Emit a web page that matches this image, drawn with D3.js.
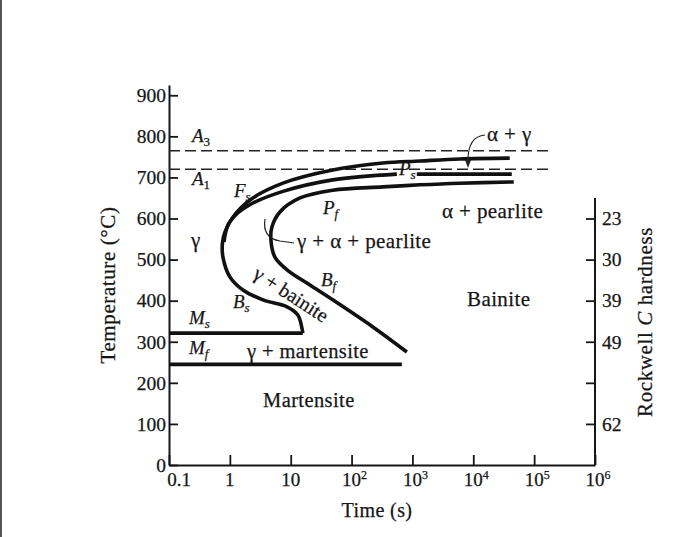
<!DOCTYPE html>
<html>
<head>
<meta charset="utf-8">
<script src="https://cdn.jsdelivr.net/npm/d3@7"></script>
<style>
  body { margin: 0; background: #fff; }
  #chart { width: 700px; height: 537px; }
  text { font-family: "Liberation Serif", "DejaVu Serif", serif; fill: #161616; }
</style>
</head>
<body>
<div id="chart"></div>
<script>

// ---- data (time in s, temperature in °C) ----
const tempTicks = [0, 100, 200, 300, 400, 500, 600, 700, 800, 900];
const timeTicks = [0.1, 1, 10, 1e2, 1e3, 1e4, 1e5, 1e6];
const timeBase = ["0.1", "1", "10", "10", "10", "10", "10", "10"];
const timeExp = ["", "", "", "2", "3", "4", "5", "6"];
const hardnessTemps = [600, 500, 400, 300, 200, 100];
const hardnessLabels = ["23", "30", "39", "49", "", "62"];
const hardnessTop = 650;

const a3Temp = 765;
const a1Temp = 720;
const dashedEnd = 1.9e5;

// outer curve: ferrite start (F_s) down through bainite start (B_s)
const fsBsCurve = [[39700, 747], [6000, 745], [1325, 740], [327, 735], [49, 718], [7.45, 686],
  [2.14, 645], [1.12, 603], [0.83, 567], [0.755, 540], [0.77, 506], [1.0, 458], [1.64, 426],
  [3.5, 402], [8.7, 385], [13.1, 365], [15.3, 333], [15.8, 321]];
// pearlite start (P_s)
const psCurve = [[0.80, 543], [0.93, 584], [1.36, 614], [2.14, 634], [7.45, 666], [49, 694], [555, 708]];
const psTail = [[1180, 708], [42900, 708]];
// pearlite finish (P_f) down through bainite finish (B_f)
const pfBfCurve = [[46200, 689], [6000, 686], [1325, 682], [327, 677], [49, 669], [14.2, 650],
  [6.65, 616], [4.9, 579], [4.73, 548], [5.5, 506], [8.7, 475], [20.7, 438], [49, 402],
  [224, 336], [810, 275]];
const msLine = [[0.1, 321], [15.8, 321]];
const mfLine = [[0.1, 245], [670, 245]];

/*
SVG CANVAS
*/
const width = 700, height = 537;
const svg = d3.select("#chart").append("svg")
  .attr("width", width)
  .attr("height", height);

// scanned page edge on the left
svg.append("line")
  .attr("x1", 1).attr("x2", 1).attr("y1", 0).attr("y2", height)
  .attr("stroke", "#555").attr("stroke-width", 2);

/*
SCALES
*/
const xScale = d3.scaleLog().domain([0.1, 1e6]).range([169, 595]);
const yScale = d3.scaleLinear().domain([0, 925]).range([465, 85]);

/*
AXES
*/
const leftAxis = svg.append("g")
  .attr("transform", `translate(${xScale(0.1)},0)`)
  .call(d3.axisLeft(yScale).tickValues(tempTicks).tickSize(-9).tickSizeOuter(0).tickPadding(3));

const bottomAxis = svg.append("g")
  .attr("transform", `translate(0,${yScale(0)})`)
  .call(d3.axisBottom(xScale).tickValues(timeTicks).tickSize(-10).tickSizeOuter(0).tickFormat(""));

const rightAxis = svg.append("g")
  .attr("transform", `translate(${xScale(1e6)},0)`)
  .call(d3.axisRight(yScale).tickValues(hardnessTemps).tickSize(-9).tickPadding(7)
    .tickFormat(function (d, i) { return hardnessLabels[i]; }));
rightAxis.select(".domain").remove();
rightAxis.append("line")
  .attr("y1", yScale(0)).attr("y2", yScale(hardnessTop))
  .attr("stroke", "#161616").attr("stroke-width", 2);

[leftAxis, bottomAxis, rightAxis].forEach(function (g) {
  g.selectAll(".domain").attr("stroke", "#161616").attr("stroke-width", 2);
  g.selectAll(".tick line").attr("stroke", "#161616").attr("stroke-width", 1.8);
  g.selectAll(".tick text").style("font-family", "Liberation Serif").style("font-size", "19.5px")
    .attr("fill", "#161616").attr("stroke", "#161616").attr("stroke-width", 0.25);
});

// x tick labels with exponents
const xLabels = svg.append("g");
timeTicks.forEach(function (t, i) {
  const tx = xLabels.append("text")
    .attr("x", xScale(t) + (i === 0 ? 10 : (timeExp[i] ? 3 : 0)))
    .attr("y", 486)
    .attr("text-anchor", "middle")
    .attr("stroke", "#161616").attr("stroke-width", 0.25)
    .style("font-size", "19px")
    .text(timeBase[i]);
  if (timeExp[i]) {
    tx.append("tspan").attr("dy", -7).style("font-size", "12px").text(timeExp[i]);
  }
});

/*
DASHED CRITICAL TEMPERATURES
*/
[a3Temp, a1Temp].forEach(function (T) {
  svg.append("line")
    .attr("x1", xScale(0.1)).attr("x2", xScale(dashedEnd))
    .attr("y1", yScale(T)).attr("y2", yScale(T))
    .attr("stroke", "#222").attr("stroke-width", 1.6)
    .attr("stroke-dasharray", "11,5");
});

/*
TRANSFORMATION CURVES
*/
const line = d3.line()
  .x(function (d) { return xScale(d[0]); })
  .y(function (d) { return yScale(d[1]); })
  .curve(d3.curveCatmullRom.alpha(0.5));

[fsBsCurve, psCurve, psTail, pfBfCurve, msLine, mfLine].forEach(function (c) {
  svg.append("path")
    .datum(c)
    .attr("d", line)
    .attr("fill", "none")
    .attr("stroke", "#111")
    .attr("stroke-width", 3.6)
    .attr("stroke-linecap", "butt")
    .attr("stroke-linejoin", "round");
});

/*
LABELS
*/
function subLabel(x, y, main, sub, subItalic) {
  const t = svg.append("text").attr("x", x).attr("y", y).style("font-size", "19px")
    .attr("stroke", "#161616").attr("stroke-width", 0.25);
  t.append("tspan").style("font-style", "italic").text(main);
  t.append("tspan").attr("dy", 4).style("font-size", "13px")
    .style("font-style", subItalic ? "italic" : "normal").text(sub);
  return t;
}
function plain(x, y, s, size, anchor) {
  return svg.append("text").attr("x", x).attr("y", y)
    .attr("text-anchor", anchor || "start")
    .attr("stroke", "#161616").attr("stroke-width", 0.25)
    .style("letter-spacing", "0.4px")
    .style("font-size", (size || 20.5) + "px").text(s);
}

subLabel(192, 142, "A", "3", false);
subLabel(192, 185, "A", "1", false);
subLabel(234, 197, "F", "s", true);
subLabel(323, 214, "P", "f", true);
subLabel(399, 175, "P", "s", true);
subLabel(321, 286, "B", "f", true);
subLabel(233, 308, "B", "s", true);
subLabel(189, 324, "M", "s", true);
subLabel(189, 354, "M", "f", true);

plain(191, 247, "γ", 21);
plain(297, 248, "γ + α + pearlite", 21);
plain(487, 141, "α + γ", 21);
plain(442, 218, "α + pearlite", 21);
plain(467, 306, "Bainite", 21);
plain(247, 358, "γ + martensite", 20.5);
plain(263, 407, "Martensite", 20.5);

svg.append("text")
  .attr("transform", "translate(252,277) rotate(33)")
  .attr("stroke", "#161616").attr("stroke-width", 0.25)
  .style("font-size", "20px")
  .text("γ + bainite");

// leaders
svg.append("path")
  .attr("d", "M265,219 Q262,238 280,241 L294,243")
  .attr("fill", "none").attr("stroke", "#222").attr("stroke-width", 1.2);
svg.append("path")
  .attr("d", "M485,135 C474,136 468,143 468,160")
  .attr("fill", "none").attr("stroke", "#222").attr("stroke-width", 1.2);
svg.append("path")
  .attr("d", "M465,160 L471,160 L468,168 Z")
  .attr("fill", "#222");

/*
AXIS TITLES
*/
plain(377, 517, "Time (s)", 20, "middle");

svg.append("text")
  .attr("transform", "translate(115,285) rotate(-90)")
  .attr("text-anchor", "middle")
  .attr("stroke", "#161616").attr("stroke-width", 0.25)
  .style("letter-spacing", "0.6px")
  .style("font-size", "21px")
  .text("Temperature (°C)");

const rw = svg.append("text")
  .attr("transform", "translate(652,322) rotate(-90)")
  .attr("text-anchor", "middle")
  .attr("stroke", "#161616").attr("stroke-width", 0.25)
  .style("letter-spacing", "0.6px")
  .style("font-size", "21px");
rw.append("tspan").text("Rockwell ");
rw.append("tspan").style("font-style", "italic").text("C");
rw.append("tspan").text(" hardness");

</script>
</body>
</html>
